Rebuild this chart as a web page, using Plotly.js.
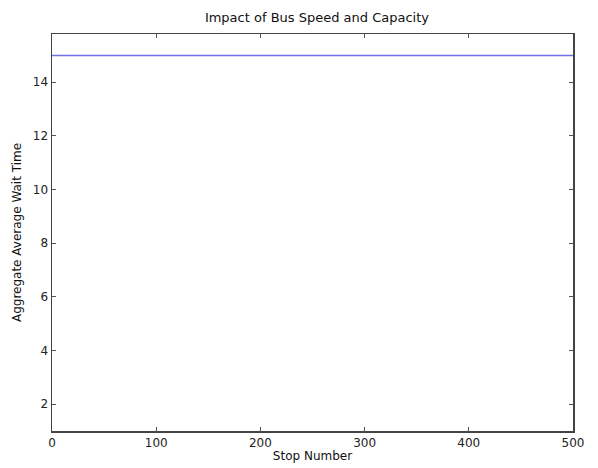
<!DOCTYPE html>
<html><head><meta charset="utf-8">
<script src="https://cdn.plot.ly/plotly-3.0.1.min.js"></script>
<style>html,body{margin:0;padding:0;background:#fff;}#c{width:598px;height:468px;}</style>
</head><body><div id="c"></div>
<script>
var stopNumbers = [0, 100, 200, 300, 400, 500];
var waitTimes = [15, 15, 15, 15, 15, 15];
var xTicks = [0, 100, 200, 300, 400, 500];
var yTicks = [2, 4, 6, 8, 10, 12, 14];

var font = {family: 'DejaVu Sans, sans-serif', size: 12, color: '#222'};
Plotly.newPlot('c', [{
  x: stopNumbers, y: waitTimes, mode: 'lines', type: 'scatter',
  line: {color: '#6f6fe6', width: 1.6}, hoverinfo: 'skip'
}], {
  width: 598, height: 468,
  margin: {l: 52, r: 25, t: 34, b: 37},
  paper_bgcolor: '#fff', plot_bgcolor: '#fff',
  showlegend: false,
  font: font,
  title: {text: 'Impact of Bus Speed and Capacity', font: {family: font.family, size: 13, color: '#111'}, x: 0.53, xanchor: 'center', y: 0.962, yanchor: 'middle'},
  xaxis: {
    range: [0, 500], tickvals: xTicks, ticktext: xTicks.map(String),
    ticks: 'inside', ticklen: 4, tickcolor: '#555', mirror: 'ticks',
    showline: true, linecolor: '#444', linewidth: 1.5, showgrid: false, zeroline: false,
    tickfont: {family: font.family, size: 12, color: '#222'},
    title: {text: 'Stop Number', font: {family: font.family, size: 12, color: '#111'}, standoff: 2}
  },
  yaxis: {
    range: [1, 15.8], tickvals: yTicks, ticktext: yTicks.map(String),
    ticks: 'inside', ticklen: 4, tickcolor: '#555', mirror: 'ticks',
    showline: true, linecolor: '#444', linewidth: 1.5, showgrid: false, zeroline: false,
    tickfont: {family: font.family, size: 12, color: '#222'},
    title: {text: 'Aggregate Average Wait Time', font: {family: font.family, size: 12, color: '#111'}, standoff: 8}
  }
}, {staticPlot: true});
</script></body></html>
